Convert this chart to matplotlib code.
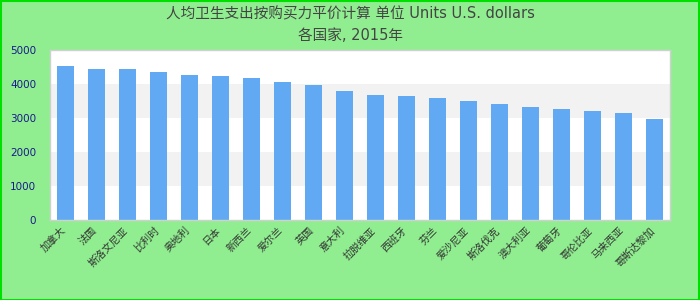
import matplotlib
matplotlib.use('Agg')
import matplotlib.pyplot as plt
from matplotlib.patches import Rectangle
from matplotlib.transforms import ScaledTranslation

plt.rcParams['font.family'] = ['DejaVu Sans', 'Noto Sans CJK SC']

categories = ['加拿大', '法国', '斯洛文尼亚', '比利时', '奥地利', '日本', '新西兰', '爱尔兰',
              '英国', '意大利', '拉脱维亚', '西班牙', '芬兰', '爱沙尼亚', '斯洛伐克', '澳大利亚',
              '葡萄牙', '哥伦比亚', '马来西亚', '哥斯达黎加']
values = [4530, 4440, 4440, 4350, 4260, 4230, 4170, 4060, 3970, 3790,
          3680, 3650, 3590, 3500, 3410, 3320, 3260, 3210, 3150, 2970]
yticks = [0, 1000, 2000, 3000, 4000, 5000]
title = '人均卫生支出按购买力平价计算 单位 Units U.S. dollars\n各国家, 2015年'

W, H = 700, 300
fig = plt.figure(figsize=(7, 3), dpi=100, facecolor='#90EE90')
fig.patches.append(Rectangle((0.5 / W, 0.5 / H), 1 - 1.5 / W, 1 - 1.5 / H,
                             transform=fig.transFigure, fill=False,
                             edgecolor='#00e000', linewidth=1.5))

ax = fig.add_axes([50 / W, 80 / H, 620 / W, 170 / H])
ax.set_facecolor('white')
for lo in (1000, 3000):
    ax.axhspan(lo, lo + 1000, color='#f2f2f2', zorder=0, linewidth=0)

x = list(range(len(categories)))
ax.bar(x, values, width=0.55, color='#62a9f4', zorder=2)
ax.set_xlim(-0.5, len(categories) - 0.5)
ax.set_ylim(0, 5000)
ax.set_yticks(yticks)
ax.set_xticks(x)
ax.set_xticklabels(categories, rotation=45, ha='right', rotation_mode='anchor',
                   fontsize=7.3, color='#333333')
ax.tick_params(axis='y', length=0, pad=10, labelsize=7.5, labelcolor='#1a1a8c')
ax.tick_params(axis='x', length=0, pad=6)
off = ScaledTranslation(-0.05, 0.03, fig.dpi_scale_trans)
for lab in ax.get_xticklabels():
    lab.set_transform(lab.get_transform() + off)
for s in ax.spines.values():
    s.set_color('#d0d0d0')
    s.set_linewidth(1)

fig.text(0.5, 1 - 6 / H, title, ha='center', va='top', fontsize=10.5,
         color='#444444', linespacing=1.55)

fig.savefig('out.png', dpi=100, facecolor=fig.get_facecolor())
